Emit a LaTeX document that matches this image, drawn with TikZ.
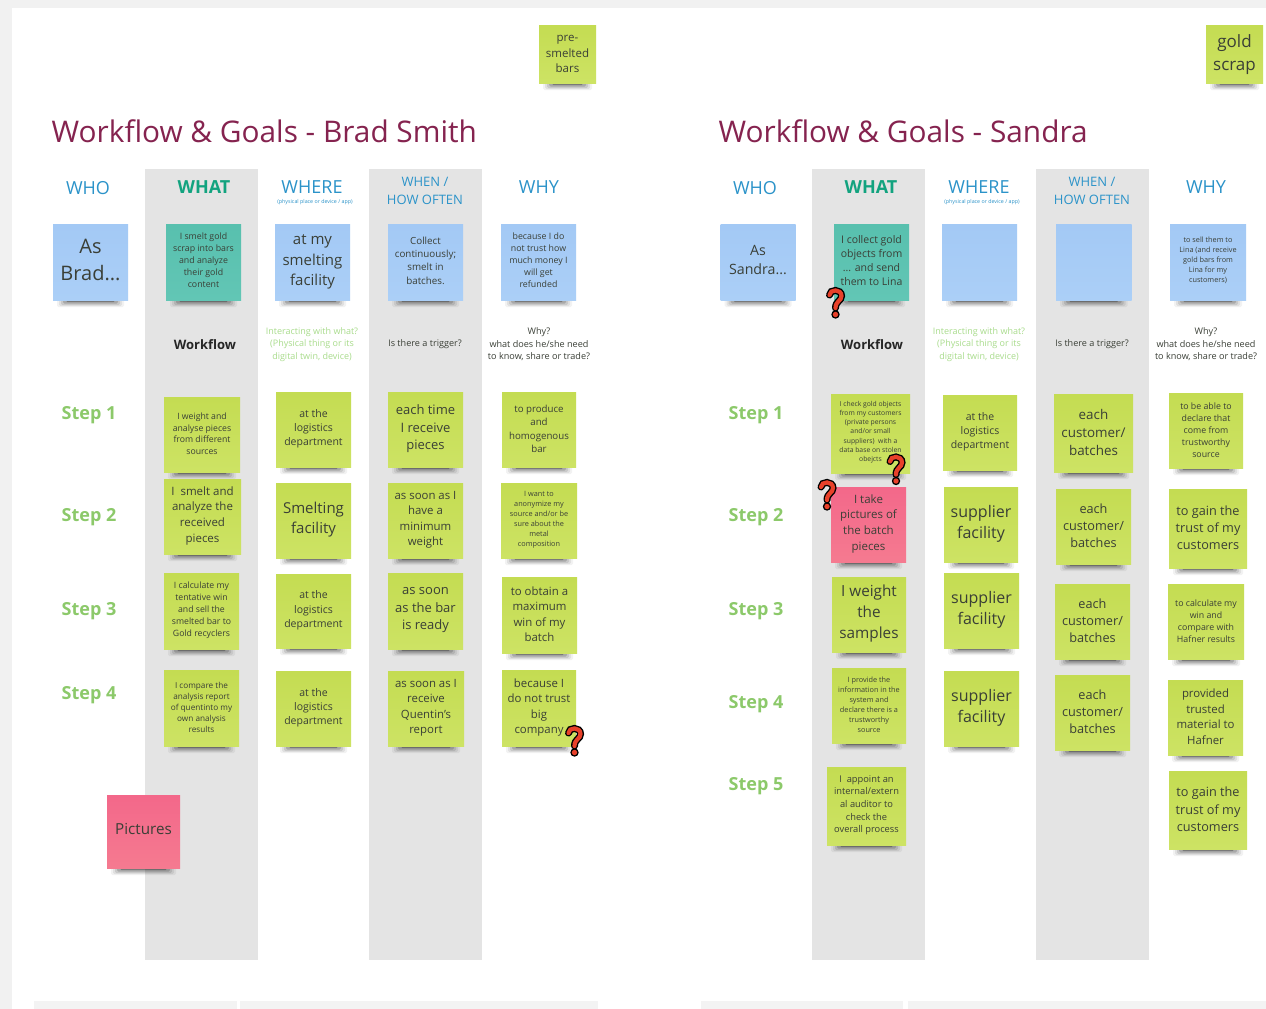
\documentclass[tikz,border=0pt]{standalone}
\usepackage{fontspec}
\setmainfont{Open Sans}
\definecolor{pagegrey}{HTML}{F1F1F1}
\definecolor{colgrey}{HTML}{E4E4E4}
\definecolor{barbg}{HTML}{F3F3F3}
\definecolor{titlec}{HTML}{85234F}
\definecolor{whoc}{HTML}{2B93C9}
\definecolor{whatc}{HTML}{12A37F}
\definecolor{stepc}{HTML}{8CC96A}
\definecolor{hintc}{HTML}{A9DC8C}
\definecolor{inkc}{HTML}{3A3F36}
\definecolor{qred}{HTML}{E8412A}
\definecolor{gtop}{HTML}{C4DC52}
\definecolor{gbot}{HTML}{CDE364}
\definecolor{btop}{HTML}{A3C9F5}
\definecolor{bbot}{HTML}{ABCFF7}
\definecolor{ttop}{HTML}{58C0AE}
\definecolor{tbot}{HTML}{62C6B5}
\definecolor{ptop}{HTML}{F3688A}
\definecolor{pbot}{HTML}{F57A90}
\newcommand{\fsz}[1]{\pgfmathsetmacro{\leadv}{#1*1.36}\fontsize{#1pt}{\leadv pt}\selectfont}
\tikzset{
  x=1pt,y=-1pt,
  stbase/.style={inner sep=0pt,text=inkc,shape=rectangle},
  stgreen/.style={stbase,top color=gtop,bottom color=gbot},
  stblue/.style={stbase,top color=btop,bottom color=bbot},
  stteal/.style={stbase,top color=ttop,bottom color=tbot},
  stpink/.style={stbase,top color=ptop,bottom color=pbot},
  shadowc/.style={fill=black,rounded corners=1.5pt},
  lab/.style={inner sep=0pt,align=center},
  title/.style={lab,anchor=west,text=titlec,font={\fsz{29.8}}},
  headbig/.style={lab,text=whoc,font={\fsz{18}}},
  headwhat/.style={lab,text=whatc,font={\fsz{18}\bfseries}},
  headsmall/.style={lab,text=whoc,font={\fsz{5.3}}},
  headwhen/.style={lab,text=whoc,font={\fontsize{13}{18.5}\selectfont}},
  workflow/.style={lab,text=black!85,font={\fsz{13}\bfseries}},
  hint/.style={lab,text=hintc,font={\fsz{9}}},
  prompt/.style={lab,text=inkc,font={\fsz{9.1}}},
  steplab/.style={lab,text=stepc,font={\fsz{18}\bfseries}},
}
\newcommand{\note}[8][-1.8]{%
  \pgfmathsetmacro{\sw}{#5-#3}\pgfmathsetmacro{\sh}{#6-#4}%
  \pgfmathsetmacro{\cx}{(#5+#3)/2}\pgfmathsetmacro{\cy}{(#6+#4)/2}%
  \fill[shadowc,opacity=.05] ({#3+4},{#6-2}) rectangle ({#5-4},{#6+7});
  \fill[shadowc,opacity=.07] ({#3+6},{#6-2}) rectangle ({#5-6},{#6+6});
  \fill[shadowc,opacity=.10] ({#3+8},{#6-2}) rectangle ({#5-8},{#6+5});
  \fill[shadowc,opacity=.16] ({#3+10},{#6-2}) rectangle ({#5-10},{#6+3.5});
  \fill[shadowc,opacity=.28] ({#3+13},{#6-2}) rectangle ({#5-13},{#6+2.2});
  \node[#7,minimum width=\sw pt,minimum height=\sh pt] (#2) at (\cx,\cy)
    {\makebox[0pt]{\smash{\raisebox{#1pt}{\parbox{200pt}{\centering #8}}}}};
}
\newcommand{\qmark}[2]{%
  \begin{scope}[shift={(#1,#2)}]
    \draw[black,line width=7pt,line cap=round] (-6,-8) .. controls (-6,-14) and (6,-14.5) .. (6,-7) .. controls (6,-2) and (0,-2) .. (0,5);
    \fill[black] (0,11.5) circle (4.2);
    \draw[qred,line width=4.2pt,line cap=round] (-6,-8) .. controls (-6,-14) and (6,-14.5) .. (6,-7) .. controls (6,-2) and (0,-2) .. (0,5);
    \fill[qred] (0,11.5) circle (2.7);
  \end{scope}}
\begin{document}
\begin{tikzpicture}
\useasboundingbox (0,0) rectangle (1266,1009);
\fill[pagegrey] (0,0) rectangle (1266,1009);
\fill[white] (12,8) rectangle (1266,1009);
% columns
\foreach \a/\b in {145/258,369/482,812/925,1036/1149}{\fill[colgrey] (\a,169) rectangle (\b,960);}
% bottom bars
\foreach \a/\b in {34/237,240/598,701/903,908/1266}{\fill[barbg] (\a,1001) rectangle (\b,1009);}
% titles
\node[title] (titleL) at (51.5,131) {Workflow \& Goals - Brad Smith};
\node[title] (titleR) at (718.5,131) {Workflow \& Goals - Sandra};
% headers
\foreach \o/\s in {0/L,667/R}{
  \node[headbig] (who\s) at (88+\o,188) {WHO};
  \node[headwhat] (what\s) at (204+\o,187) {WHAT};
  \node[headbig] (where\s) at (312+\o,187) {WHERE};
  \node[headsmall] (phys\s) at (315+\o,202) {(physical place or device / app)};
  \node[headwhen] (when\s) at (425+\o,191) {WHEN /\\HOW OFTEN};
  \node[headbig] (why\s) at (539+\o,187) {WHY};
  \node[workflow] (wf\s) at (205+\o,344.5) {Workflow};
  \node[hint] (hint\s) at (312+\o,344.5) {Interacting with what?\\(Physical thing or its\\digital twin, device)};
  \node[prompt] (trig\s) at (425+\o,344.5) {Is there a trigger?};
  \node[prompt] (whyq\s) at (539+\o,344.5) {Why?\\what does he/she need\\to know, share or trade?};
  \node[steplab] (sa\s) at (89+\o,415) {Step 1};
  \node[steplab] (sb\s) at (89+\o,517) {Step 2};
  \node[steplab] (sc\s) at (89+\o,611) {Step 3};
}
\node[steplab] (sdL) at (89,695) {Step 4};
\node[steplab] (sdR) at (756,704) {Step 4};
\node[steplab] (seR) at (756,786) {Step 5};
% loose notes
\note[-2.5]{pre}{539}{25}{596}{83}{stgreen}{\fsz{11.5}pre-\\smelted\\bars}
\note[-3]{gold}{1206}{25}{1263}{83}{stgreen}{\fsz{17}gold\\scrap}
\note[0]{pics}{107}{795}{180}{868}{stpink}{\fsz{15.2}Pictures}
% Brad top row
\note[-0.5]{la}{53}{224}{128}{300}{stblue}{\fsz{20}As\\Brad...}
\note[-1]{lb}{166}{224}{241}{300}{stteal}{\fsz{8.8}I smelt gold\\scrap into bars\\and analyze\\their gold\\content}
\note[-2.5]{lc}{275}{224}{350}{300}{stblue}{\fsz{15}at my\\smelting\\facility}
\note[-1]{ld}{388}{224}{463}{300}{stblue}{\fsz{9.8}Collect\\continuously;\\smelt in\\batches.}
\note[-1]{le}{501}{224}{576}{300}{stblue}{\fsz{8.8}because I do\\not trust how\\much money I\\will get\\refunded}
% Brad what
\note{l1a}{164}{397}{240}{472}{stgreen}{\fsz{8.7}I weight and\\analyse pieces\\from different\\sources}
\note{l2a}{164}{479}{241}{554}{stgreen}{\fsz{11.5}I\ \ smelt and\\analyze the\\received\\pieces}
\note{l3a}{164}{573}{239}{649}{stgreen}{\fsz{8.7}I calculate my\\tentative win\\and sell the\\smelted bar to\\Gold recyclers}
\note{l4a}{164}{670}{239}{746}{stgreen}{\fsz{8.2}I compare the\\analysis report\\of quentinto my\\own analysis\\results}
% Brad where
\note{l1b}{276}{392}{351}{467}{stgreen}{\fsz{10.5}at the\\logistics\\department}
\note{l2b}{276}{483}{351}{558}{stgreen}{\fsz{15}Smelting\\facility}
\note{l3b}{276}{574}{351}{648}{stgreen}{\fsz{10.5}at the\\logistics\\department}
\note{l4b}{276}{671}{351}{746}{stgreen}{\fsz{10.5}at the\\logistics\\department}
% Brad when
\note{l1c}{388}{392}{463}{467}{stgreen}{\fsz{13}each time\\I receive\\pieces}
\note{l2c}{388}{483}{463}{558}{stgreen}{\fsz{11.4}as soon as I\\have a\\minimum\\weight}
\note{l3c}{388}{573}{463}{649}{stgreen}{\fsz{13}as soon\\as the bar\\is ready}
\note{l4c}{388}{671}{464}{746}{stgreen}{\fsz{11.4}as soon as I\\receive\\Quentin's\\report}
% Brad why
\note{l1d}{502}{392}{576}{467}{stgreen}{\fsz{9.7}to produce\\and\\homogenous\\bar}
\note{l2d}{501}{483}{577}{558}{stgreen}{\fsz{7.3}I want to\\anonymize my\\source and/or be\\sure about the\\metal\\composition}
\note{l3d}{502}{577}{577}{653}{stgreen}{\fsz{11.4}to obtain a\\maximum\\win of my\\batch}
\note{l4d}{502}{670}{576}{746}{stgreen}{\fsz{11.4}because I\\do not trust\\big\\company}
% Sandra top row
\note[-0.5]{ra}{720.5}{224}{795.5}{300}{stblue}{\fsz{14.2}As\\Sandra...}
\note[-1]{rb}{834}{224}{909}{300}{stteal}{\fsz{10.5}I collect gold\\objects from\\... and send\\them to Lina}
\note{rc}{942}{224}{1017}{300}{stblue}{}
\note{rd}{1056}{224}{1131.5}{300}{stblue}{}
\note[-1]{re}{1170}{224}{1246}{300}{stblue}{\fsz{7.3}to sell them to\\Lina (and receive\\gold bars from\\Lina for my\\customers)}
% Sandra what
\note[-1]{r1a}{831}{394}{910}{473}{stgreen}{\fsz{6.8}I check gold objects\\from my customers\\(private persons\\and/or small\\suppliers)\ \ with a\\data base on stolen\\obejcts}
\note{r2a}{831}{487}{906}{562}{stpink}{\fsz{11.5}I take\\pictures of\\the batch\\pieces}
\note{r3a}{832}{577}{906}{652}{stgreen}{\fsz{15.3}I weight\\the\\samples}
\note{r4a}{832}{668}{906}{743}{stgreen}{\fsz{7.3}I provide the\\information in the\\system and\\declare there is a\\trustworthy\\source}
\note{r5a}{827}{767}{906}{845}{stgreen}{\fsz{9.3}I\ \ appoint an\\internal/extern\\al auditor to\\check the\\overall process}
% Sandra where
\note{r1b}{943}{395}{1017}{470}{stgreen}{\fsz{10.5}at the\\logistics\\department}
\note{r2b}{944}{487}{1018}{562}{stgreen}{\fsz{16}supplier\\facility}
\note{r3b}{944}{573}{1019}{648}{stgreen}{\fsz{16}supplier\\facility}
\note{r4b}{944}{671}{1019}{746}{stgreen}{\fsz{16}supplier\\facility}
% Sandra when
\note{r1c}{1054}{394}{1133}{472}{stgreen}{\fsz{13.4}each\\customer/\\batches}
\note{r2c}{1056}{489}{1131}{564}{stgreen}{\fsz{12.7}each\\customer/\\batches}
\note{r3c}{1055}{584}{1130}{659}{stgreen}{\fsz{12.7}each\\customer/\\batches}
\note{r4c}{1055}{675}{1130}{750}{stgreen}{\fsz{12.7}each\\customer/\\batches}
% Sandra why
\note{r1d}{1169}{393}{1243}{468}{stgreen}{\fsz{8.8}to be able to\\declare that\\come from\\trustworthy\\source}
\note{r2d}{1169}{489}{1247}{568}{stgreen}{\fsz{12.7}to gain the\\trust of my\\customers}
\note{r3d}{1168}{584}{1244}{659}{stgreen}{\fsz{8.8}to calculate my\\win and\\compare with\\Hafner results}
\note{r4d}{1168}{680}{1243}{755}{stgreen}{\fsz{11.4}provided\\trusted\\material to\\Hafner}
\note{r5d}{1169}{771}{1247}{849}{stgreen}{\fsz{12.7}to gain the\\trust of my\\customers}
% question marks
\qmark{574.5}{741}
\qmark{835.5}{303}
\qmark{896}{469.5}
\qmark{827}{495}
\end{tikzpicture}
\end{document}
